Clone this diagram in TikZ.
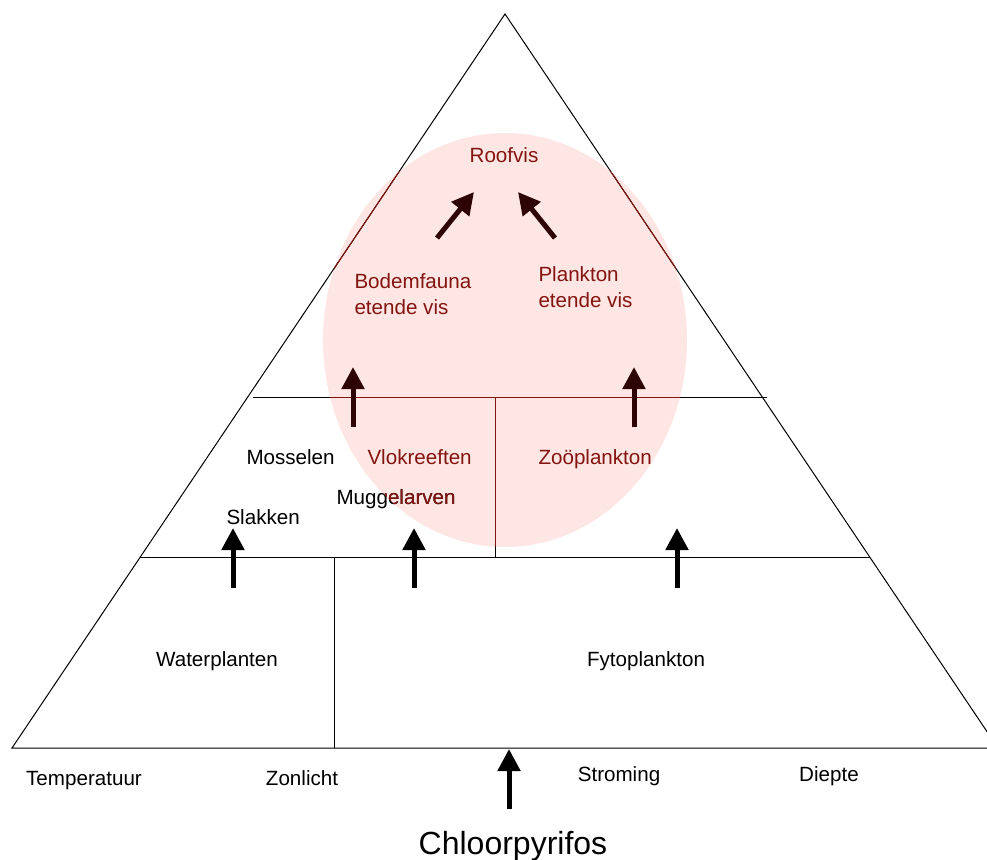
\documentclass[tikz,border=0pt]{standalone}
\usepackage{fontspec}
\setmainfont{Liberation Sans}
\usetikzlibrary{arrows.meta,calc}
\definecolor{ovalpink}{HTML}{FDE6E4}
\definecolor{fishred}{HTML}{84140F}
\definecolor{darkarrow}{HTML}{2E0303}

\begin{document}
\begin{tikzpicture}
[x=1pt,y=-1pt,line width=1pt,%
  every node/.style={inner sep=0pt,font=\fontsize{20.6}{26}\selectfont},%
  lbl/.style={anchor=base west,align=left},%
  mid/.style={anchor=base},%
  redlbl/.style={lbl,text=fishred},%
  flow/.style={line width=5pt,-{Triangle[width=22pt,length=22pt]}},%
  inflow/.style={flow,darkarrow}]
\clip (0,0) rectangle (987,859);
% corners of the pyramid
\coordinate (apex) at (505,14);
\coordinate (bl) at (12,748);
\coordinate (br) at (998,748);
\coordinate (l1) at ($(apex)!0.7398!(bl)$);
\coordinate (r1) at ($(apex)!0.7398!(br)$);
\coordinate (l2) at (253,397);
\coordinate (r2) at (767,397);
% the oval
\fill[ovalpink] (505,340) ellipse [x radius=182,y radius=207];
\draw (apex) -- (bl) -- (br) -- cycle;
\draw (l1) -- (r1);
\draw (l2) -- (r2);
\draw (334,557) -- (334,748);
\draw (495,397) -- (495,557);
\node[lbl] (mugg) at (336,504) {Muggelarven};
% red inside the oval
\begin{scope}
  \clip (505,340) ellipse [x radius=182,y radius=207];
  \draw[fishred] (apex) -- (bl) -- (br) -- cycle;
  \draw[fishred] (l2) -- (r2);
  \draw[fishred] (495,397) -- (495,557);
  \node[redlbl] (muggred) at (336,504) {Muggelarven};
\end{scope}
% labels
\node[mid,text=fishred] (roof) at (504,162) {Roofvis};
\node[redlbl] (bodem) at (354,314) {Bodemfauna\\etende vis};
\node[redlbl] (plank) at (538,307) {Plankton\\etende vis};
\node[lbl] (mossel) at (246,464) {Mosselen};
\node[redlbl] (vlok) at (367,464) {Vlokreeften};
\node[redlbl] (zoo) at (538,464) {Zoöplankton};
\node[lbl] (slak) at (226,524) {Slakken};
\node[mid] (water) at (217,666) {Waterplanten};
\node[mid] (fyto) at (646,666) {Fytoplankton};
\node[mid] (temp) at (84,785) {Temperatuur};
\node[mid] (zon) at (302,785) {Zonlicht};
\node[mid] (strom) at (619,781) {Stroming};
\node[mid] (diep) at (829,781) {Diepte};
\node[mid,font=\fontsize{32}{36}\selectfont] (chloor) at (513,854) {Chloorpyrifos};
% arrow ends
\coordinate (a1) at (233,588); \coordinate (b1) at (233,528);
\coordinate (a2) at (414,588); \coordinate (b2) at (414,528);
\coordinate (a3) at (677,588); \coordinate (b3) at (677,528);
\coordinate (a4) at (353,427); \coordinate (b4) at (353,367);
\coordinate (a5) at (634,427); \coordinate (b5) at (634,367);
\coordinate (a6) at (437,238); \coordinate (b6) at (474,192);
\coordinate (a7) at (555,238); \coordinate (b7) at (518,192);
\coordinate (a8) at (509,809); \coordinate (b8) at (509,749);
\draw[flow] (a1) -- (b1);
\draw[flow] (a2) -- (b2);
\draw[flow] (a3) -- (b3);
\draw[inflow] (a4) -- (b4);
\draw[inflow] (a5) -- (b5);
\draw[inflow] (a6) -- (b6);
\draw[inflow] (a7) -- (b7);
\draw[flow] (a8) -- (b8);
\end{tikzpicture}
\end{document}
